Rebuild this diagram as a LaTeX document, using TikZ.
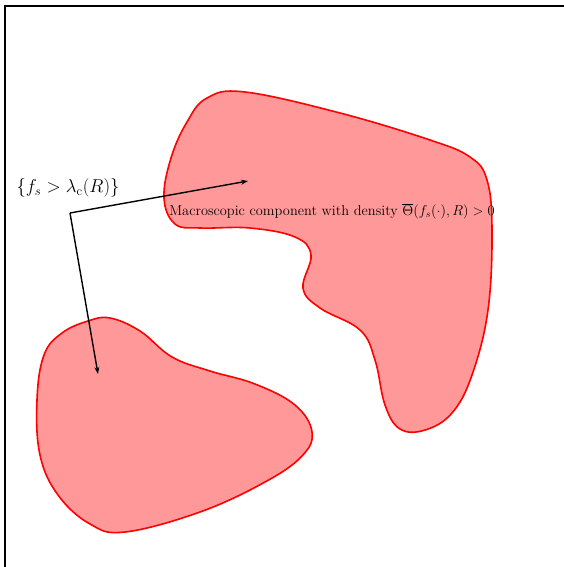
\documentclass[tikz,border=0pt]{standalone}
\usetikzlibrary{arrows.meta}
\begin{document}
\begin{tikzpicture}[x=1pt,y=-1pt,
  blob/.style={draw=red,fill=red!40,line width=1.6pt},
  pointer/.style={line width=1.4pt,-{Stealth[length=7pt,width=5pt]}},
  frameline/.style={line width=2pt}]
\useasboundingbox (0,0) rectangle (564,567);
\draw[frameline] (5,568) -- (5,6) -- (565,6);
% big component
\draw[blob] plot[smooth cycle,tension=0.65] coordinates {
 (207,98) (245,92) (340,113) (430,140) (470,157) (487,180) (492,230)
 (488,310) (472,375) (452,413) (425,430) (400,429) (385,405) (375,360)
 (360,330) (320,308) (303,288) (311,255) (295,237) (250,228) (200,228)
 (175,224) (164,198) (171,158) (187,122)};
% small component
\draw[blob] plot[smooth cycle,tension=0.65] coordinates {
 (110,318) (140,331) (172,357) (210,371) (255,384) (295,405) (312,432)
 (302,456) (265,482) (200,512) (125,532) (90,524) (58,495) (40,455)
 (37,400) (44,355) (62,333) (88,321)};
\node[font=\fontsize{17.28}{21}\selectfont] (lab) at (68,188) {\scalebox{1.08}{$\{f_s>\lambda_{\mathrm{c}}(R)\}$}};
\node[font=\fontsize{14.4}{17}\selectfont] (ann) at (332,211) {Macroscopic component with density $\overline{\Theta}(f_s(\cdot),R)>0$};
\coordinate (corner) at (70,213);
\coordinate (tipA) at (248,181);
\coordinate (tipB) at (98,374);
\draw[pointer] (corner) -- (tipA);
\draw[pointer] (corner) -- (tipB);
\end{tikzpicture}
\end{document}
